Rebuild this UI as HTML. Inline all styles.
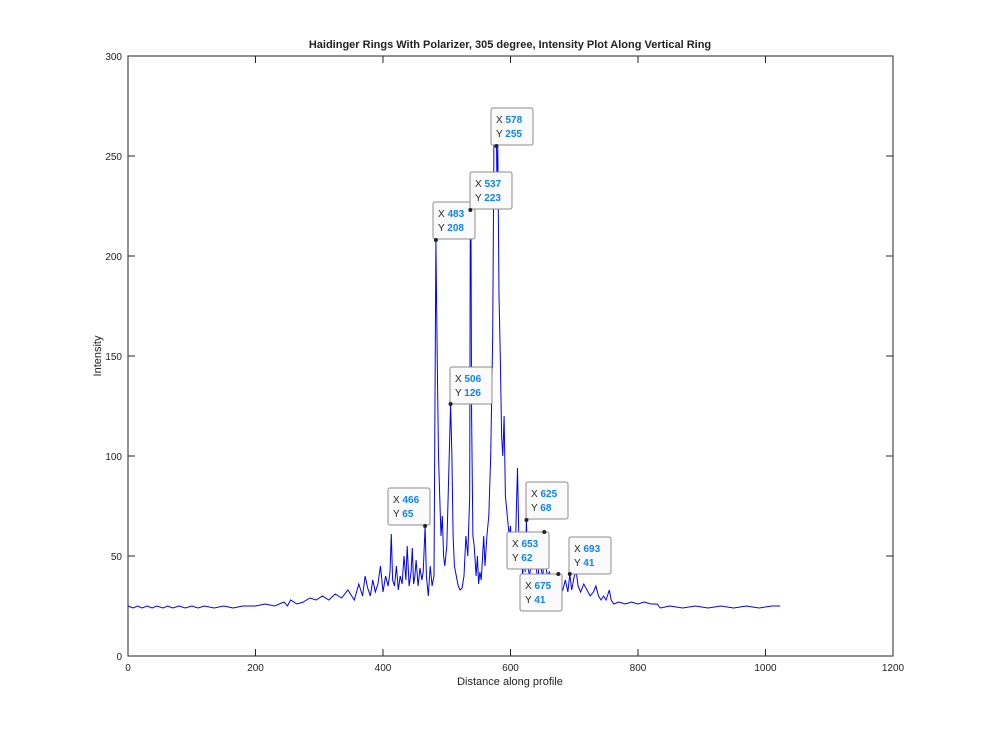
<!DOCTYPE html>
<html><head><meta charset="utf-8"><style>
body{margin:0;background:#fff}
svg{display:block;font-family:"Liberation Sans",Arial,sans-serif}
</style></head><body>
<svg id="chart" width="984" height="737" viewBox="0 0 984 737">
<rect width="984" height="737" fill="#fff"/>
<text x="510" y="48" text-anchor="middle" font-size="11" font-weight="bold" fill="#222">Haidinger Rings With Polarizer, 305 degree, Intensity Plot Along Vertical Ring</text>
<text x="510" y="685" text-anchor="middle" font-size="11" fill="#222">Distance along profile</text>
<text transform="translate(101,356) rotate(-90)" text-anchor="middle" font-size="11" fill="#222">Intensity</text>
<g id="axes"></g>
<polyline id="trace" fill="none" stroke="#0000ff" stroke-width="1"/>
<g id="tips"></g>
<rect x="128" y="56" width="765" height="600" fill="none" stroke="#262626" stroke-width="1"/>
</svg>
<script>
const xTicks=[0,200,400,600,800,1000,1200];
const yTicks=[0,50,100,150,200,250,300];
const distX=[0,8,15,22,30,38,45,55,62,70,80,90,100,110,120,135,150,165,180,200,215,230,245,250,255,265,275,285,295,305,315,325,335,345,355,362,368,372,376,380,384,388,392,396,400,404,408,411,413,415,418,421,424,427,430,433,436,438,441,444,446,448,450,452,455,458,461,463,466,468,471,474,477,480,483,485,487,489,491,493,495,497,500,503,506,508,510,512,515,518,521,524,527,530,533,536,537,538,539,541,543,546,548,550,552,554,556,558,560,563,566,569,572,574,577,578,579,580,582,584,586,588,590,592,595,598,600,602,605,607,609,611,613,615,617,619,621,623,625,627,630,633,636,640,643,646,649,651,653,655,658,661,665,670,675,678,682,686,690,693,696,700,703,706,710,715,720,725,730,734,738,742,746,750,755,758,762,770,780,790,800,810,820,830,835,850,870,890,910,930,950,970,990,1010,1023];
const intensity=[25,24,25,24,25,24,25,24,25,24,25,24,25,24,25,24,25,24,25,25,26,25,27,25,28,26,27,29,28,30,28,31,29,33,28,36,30,40,34,30,38,32,36,45,32,40,35,42,61,38,35,45,33,40,36,50,38,55,35,42,54,36,40,48,35,44,38,42,65,40,30,45,35,40,208,150,100,80,60,70,50,45,55,90,126,100,60,45,40,35,33,34,40,60,50,80,223,210,120,60,55,40,50,36,42,38,48,60,45,60,70,100,160,255,255,255,230,255,180,150,110,100,120,80,70,60,65,50,55,45,70,94,60,48,55,40,50,42,68,45,40,48,44,45,38,50,42,40,62,45,40,42,38,40,41,36,33,38,32,41,33,40,42,35,32,36,33,30,32,35,30,28,30,28,33,28,26,27,26,27,26,27,26,26,24,25,24,25,24,25,24,25,24,25,25];
const tipX=[466,483,506,537,578,625,653,675,693];
const tipY=[65,208,126,223,255,68,62,41,41];
const boxPos=[[388,488],[433,202],[450,367],[470,172],[491,108],[526,482],[507,532],[520,574],[569,537]];
const X0=128,X1=893,Y0=656,Y1=56;
const sx=v=>X0+(v-0)/1200*(X1-X0);
const sy=v=>Y0-(v-0)/300*(Y0-Y1);
const NS="http://www.w3.org/2000/svg";
const axes=document.getElementById('axes');
function mk(tag,attrs,parent){const e=document.createElementNS(NS,tag);for(const k in attrs)e.setAttribute(k,attrs[k]);parent.appendChild(e);return e;}
xTicks.forEach(t=>{
  const x=sx(t);
  const l=mk('path',{d:`M${x},${Y0}v-7M${x},${Y1}v7`,stroke:'#262626'},axes);
  
  
  const tx=mk('text',{x:x,y:Y0+15,'text-anchor':'middle','font-size':'10',fill:'#222'},axes);
  tx.textContent=t;
  
  
});
yTicks.forEach(t=>{
  const y=sy(t);
  const l=mk('path',{d:`M${X0},${y}h7M${X1},${y}h-7`,stroke:'#262626'},axes);
  
  
  const tx=mk('text',{x:X0-6,y:y+4,'text-anchor':'end','font-size':'10',fill:'#222'},axes);
  tx.textContent=t;
  
  
});
document.getElementById('trace').setAttribute('points',distX.map((d,i)=>sx(d).toFixed(1)+','+sy(intensity[i]).toFixed(1)).join(' '));
const tips=document.getElementById('tips');
tipX.forEach((v,i)=>{
  const g=mk('g',{},tips);
  
  
  const [bx,by]=boxPos[i];
  const r=mk('rect',{x:bx,y:by,width:42,height:37,rx:2,fill:'#fafafa',stroke:'#8c8c8c'},g);
  
  
  const t1=mk('text',{x:bx+5,y:by+15,'font-size':'10',fill:'#262626'},g);
  t1.innerHTML='X <tspan fill="#0a84ff" font-weight="bold">'+v+'</tspan>';
  
  
  const t2=mk('text',{x:bx+5,y:by+29,'font-size':'10',fill:'#262626'},g);
  t2.innerHTML='Y <tspan fill="#0a84ff" font-weight="bold">'+tipY[i]+'</tspan>';
  
  
  const c=mk('circle',{cx:sx(v),cy:sy(tipY[i]),r:2,fill:'#222'},g);
  
  
});
</script>
</body></html>
